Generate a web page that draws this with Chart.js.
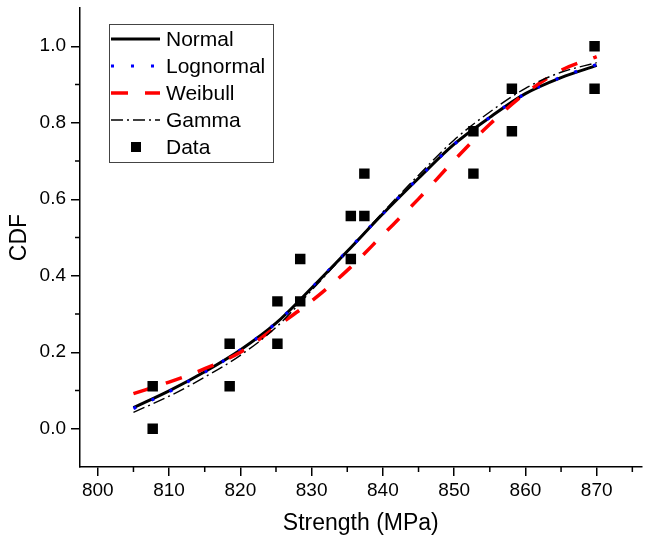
<!DOCTYPE html>
<html>
<head>
<meta charset="utf-8">
<script src="https://cdn.jsdelivr.net/npm/chart.js@4/dist/chart.umd.min.js"></script>
<style>
  html, body { margin: 0; padding: 0; background: #fff; }
  #wrap { width: 649px; height: 541px; }
</style>
</head>
<body>
<div id="wrap"><canvas id="cdf"></canvas></div>
<script>
// Fitted CDF curves, every 5 MPa
const curveX    = [805, 810, 815, 820, 825, 830, 835, 840, 845, 850, 855, 860, 865, 870];
const normalY   = [0.055, 0.099, 0.149, 0.206, 0.276, 0.368, 0.464, 0.562, 0.655, 0.744, 0.814, 0.876, 0.918, 0.950];
const lognormY  = [0.053, 0.097, 0.148, 0.206, 0.276, 0.368, 0.465, 0.563, 0.656, 0.744, 0.814, 0.876, 0.919, 0.952];
const weibullY  = [0.092, 0.122, 0.157, 0.200, 0.266, 0.334, 0.414, 0.507, 0.601, 0.702, 0.796, 0.877, 0.937, 0.973];
const gammaY    = [0.043, 0.085, 0.135, 0.192, 0.265, 0.362, 0.463, 0.566, 0.663, 0.755, 0.828, 0.890, 0.932, 0.957];

// Empirical data (step pairs)
const dataX = [807.7, 807.7, 818.5, 818.5, 825.2, 825.2, 828.4, 828.4, 835.5, 835.5,
               837.4, 837.4, 852.7, 852.7, 858.1, 858.1, 869.7, 869.7];
const dataY = [0.000, 0.111, 0.111, 0.222, 0.222, 0.333, 0.333, 0.444, 0.444, 0.556,
               0.556, 0.667, 0.667, 0.778, 0.778, 0.889, 0.889, 1.000];

const xTicks = [800, 810, 820, 830, 840, 850, 860, 870];
const xMinor = [805, 815, 825, 835, 845, 855, 865, 875];
const yTicks = [0, 0.2, 0.4, 0.6, 0.8, 1.0];
const yMinor = [0.1, 0.3, 0.5, 0.7, 0.9];

const FONT = '"Liberation Sans", Arial, sans-serif';

function pts(xs, ys) {
  return xs.map((x, i) => ({ x, y: ys[i] }));
}

// ─── Minor tick marks ─────────────────────────────────────────────────────────

const minorTicks = {
  id: 'minorTicks',
  afterDraw(chart) {
    const { ctx, scales: { x, y } } = chart;
    ctx.save();
    ctx.strokeStyle = '#000';
    ctx.lineWidth = 1.5;
    ctx.beginPath();
    xMinor.forEach((v) => {
      const px = x.getPixelForValue(v);
      ctx.moveTo(px, x.top);
      ctx.lineTo(px, x.top + 5);
    });
    yMinor.forEach((v) => {
      const py = y.getPixelForValue(v);
      ctx.moveTo(y.right, py);
      ctx.lineTo(y.right - 5, py);
    });
    ctx.stroke();
    ctx.restore();
  },
};

// ─── Boxed legend inside the plot ─────────────────────────────────────────────

const boxLegend = {
  id: 'boxLegend',
  afterDraw(chart) {
    const { ctx, chartArea } = chart;
    const left = chartArea.left + 29;
    const top = chartArea.top + 16;
    const w = 164, h = 138, rowH = 27;
    ctx.save();
    ctx.fillStyle = '#fff';
    ctx.fillRect(left, top, w, h);
    ctx.strokeStyle = '#444';
    ctx.lineWidth = 1;
    ctx.strokeRect(left + 0.5, top + 0.5, w, h);

    ctx.font = '21px ' + FONT;
    ctx.textBaseline = 'middle';
    chart.data.datasets.forEach((ds, i) => {
      const cy = top + 15 + i * rowH;
      if (ds.showLine) {
        ctx.beginPath();
        ctx.strokeStyle = ds.borderColor;
        ctx.lineWidth = ds.borderWidth;
        ctx.setLineDash(ds.borderDash || []);
        ctx.moveTo(left + 2, cy);
        ctx.lineTo(left + 51, cy);
        ctx.stroke();
        ctx.setLineDash([]);
      } else {
        ctx.fillStyle = ds.backgroundColor;
        ctx.fillRect(left + 22, cy - 5, 10, 10);
      }
      ctx.fillStyle = '#000';
      ctx.fillText(ds.label, left + 57, cy + 1);
    });
    ctx.restore();
  },
};

// ─── Chart ────────────────────────────────────────────────────────────────────

const lineBase = { showLine: true, pointRadius: 0, fill: false, cubicInterpolationMode: 'monotone' };

new Chart(document.getElementById('cdf'), {
  type: 'scatter',
  data: {
    datasets: [
      { ...lineBase, label: 'Normal', data: pts(curveX, normalY), borderColor: '#000', borderWidth: 3, order: 5 },
      { ...lineBase, label: 'Lognormal', data: pts(curveX, lognormY), borderColor: '#0000ff', borderWidth: 3.2, borderDash: [3, 17], order: 4 },
      { ...lineBase, label: 'Weibull', data: pts(curveX, weibullY), borderColor: '#ff0000', borderWidth: 3.5, borderDash: [17, 17], order: 3 },
      { ...lineBase, label: 'Gamma', data: pts(curveX, gammaY), borderColor: '#000', borderWidth: 1.4, borderDash: [12, 4, 2, 4], order: 2 },
      {
        label: 'Data', data: pts(dataX, dataY), showLine: false,
        pointStyle: 'rect', pointRadius: 7.4, backgroundColor: '#000', borderColor: '#000', borderWidth: 0, order: 1,
      },
    ],
  },
  options: {
    responsive: true,
    maintainAspectRatio: false,
    animation: false,
    layout: { padding: { top: 8, right: 7, left: 0, bottom: 0 } },
    plugins: { legend: { display: false }, tooltip: { enabled: false } },
    scales: {
      x: {
        type: 'linear',
        min: 797.5,
        max: 876.3,
        afterBuildTicks: (axis) => { axis.ticks = xTicks.map((v) => ({ value: v })); },
        afterFit: (s) => { s.height = 74; s.paddingLeft = 0; s.paddingRight = 0; },
        border: { color: '#000', width: 1.5 },
        grid: { drawOnChartArea: false, drawTicks: true, tickLength: 9, color: '#000', lineWidth: 1.5 },
        ticks: { color: '#000', font: { family: FONT, size: 19 }, padding: 3, maxRotation: 0 },
        title: { display: true, text: 'Strength (MPa)', color: '#000', font: { family: FONT, size: 23 }, padding: { top: 8 } },
      },
      y: {
        type: 'linear',
        min: -0.1,
        max: 1.1,
        afterBuildTicks: (axis) => { axis.ticks = yTicks.map((v) => ({ value: v })); },
        afterFit: (s) => { s.width = 80; s.paddingTop = 0; s.paddingBottom = 0; },
        border: { color: '#000', width: 1.5 },
        grid: { drawOnChartArea: false, drawTicks: true, tickLength: 9, color: '#000', lineWidth: 1.5 },
        ticks: { color: '#000', font: { family: FONT, size: 19 }, padding: 5, callback: (v) => v.toFixed(1) },
        title: { display: true, text: 'CDF', color: '#000', font: { family: FONT, size: 23 }, padding: { top: 6, bottom: 0 } },
      },
    },
  },
  plugins: [minorTicks, boxLegend],
});
</script>
</body>
</html>
